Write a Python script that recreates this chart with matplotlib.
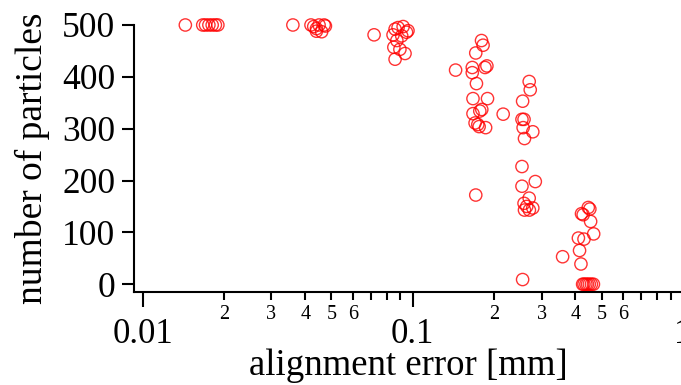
import matplotlib.pyplot as plt
import matplotlib.ticker as mticker
import numpy as np

plt.rcParams['font.family'] = ['Liberation Serif', 'DejaVu Serif']

# values
err_mm = [
    # ~0.015 group
    0.0144, 0.0167, 0.0171, 0.0176, 0.0181, 0.0186, 0.0190,
    # ~0.04 group
    0.036, 0.042, 0.043, 0.044, 0.045, 0.046, 0.047, 0.044, 0.0475,
    # ~0.09 group
    0.0719, 0.0845, 0.0882, 0.0921, 0.0948, 0.0860, 0.0910, 0.0873,
    0.0851, 0.0896, 0.0936, 0.0860, 0.0960,
    # ~0.17 group
    0.1796, 0.182, 0.171, 0.144, 0.166, 0.166, 0.185, 0.188, 0.172,
    0.167, 0.189, 0.180, 0.177, 0.167, 0.170, 0.174, 0.176, 0.186,
    0.216, 0.171,
    # ~0.26 group
    0.2696, 0.272, 0.2549, 0.2535, 0.258, 0.256, 0.278, 0.259, 0.2535,
    0.2535, 0.284, 0.2696, 0.259, 0.270, 0.278, 0.264, 0.2549, 0.258,
    # ~0.44 group
    0.3584, 0.446, 0.452, 0.421, 0.427, 0.455, 0.467, 0.410, 0.430,
    0.414, 0.419, 0.425, 0.430, 0.437, 0.443, 0.450, 0.458, 0.466,
]
n_particles = [
    500, 500, 500, 500, 500, 500, 500,
    500, 500, 497, 493, 500, 487, 500, 488, 498,
    481, 481, 495, 497, 486, 492, 479, 470,
    457, 453, 445, 434, 489,
    470, 461, 446, 413, 418, 408, 418, 421, 387,
    358, 358, 337, 334, 329, 311, 308, 304, 302,
    328, 172,
    391, 375, 353, 318, 318, 302, 294, 281, 227,
    189, 198, 166, 143, 143, 147, 150, 9, 156,
    53, 148, 145, 136, 134, 121, 97, 89, 87,
    65, 39, 0, 0, 0, 0, 0, 0, 0,
]

fig = plt.figure(figsize=(6.81, 3.85), dpi=100)
ax = fig.add_axes([0.1968, 0.2416, 0.8062, 0.6935])

ax.scatter(err_mm, n_particles, s=78, facecolors='none', edgecolors='red',
           linewidths=1.0, alpha=0.8, clip_on=False, zorder=3)

ax.set_xscale('log')
ax.set_xlim(0.0093, 1.0)
ax.set_ylim(-15, 500)
ax.set_yticks([0, 100, 200, 300, 400, 500])

ax.xaxis.set_major_locator(mticker.LogLocator(base=10))
ax.xaxis.set_minor_locator(mticker.LogLocator(base=10, subs=np.arange(2, 10)))
ax.xaxis.set_major_formatter(mticker.FuncFormatter(lambda v, p: f"{v:g}"))

def minor_fmt(val, pos=None):
    m = int(round(val / 10 ** np.floor(np.log10(val) + 1e-9)))
    return str(m) if m <= 6 else ''

ax.xaxis.set_minor_formatter(mticker.FuncFormatter(minor_fmt))

for s in ['top', 'right']:
    ax.spines[s].set_visible(False)
for s in ['left', 'bottom']:
    ax.spines[s].set_linewidth(1.5)

ax.tick_params(axis='x', which='major', length=10.8, width=1.5, pad=8, labelsize=25)
ax.tick_params(axis='x', which='minor', length=5.8, width=1.5, pad=3.5, labelsize=14.5)
ax.tick_params(axis='y', which='major', length=9, width=1.5, pad=4.5, labelsize=25.5)

ax.set_xlabel('alignment error [mm]', fontsize=26.5, labelpad=-2)
ax.set_ylabel('number of particles', fontsize=27, labelpad=9)

plt.savefig('out.png', dpi=100)
